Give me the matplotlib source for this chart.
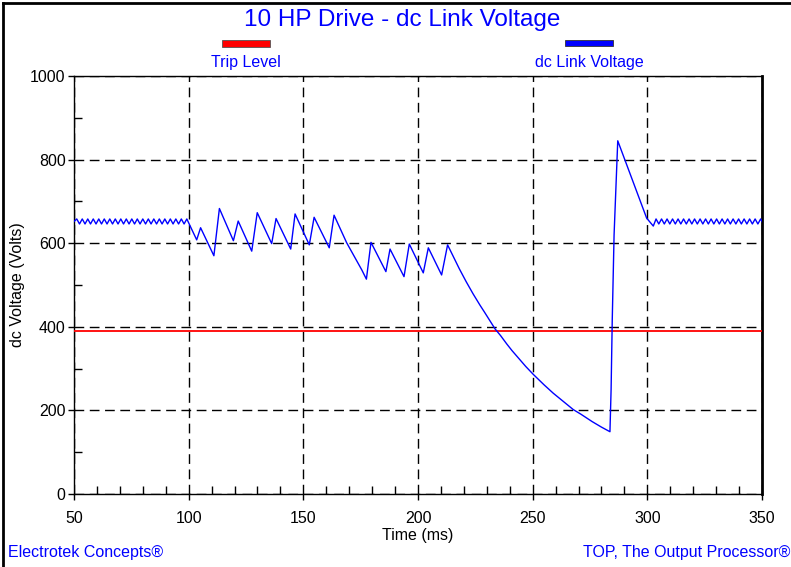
import numpy as np
import matplotlib
matplotlib.use("Agg")
import matplotlib.pyplot as plt
from matplotlib.lines import Line2D
from matplotlib.patches import Rectangle
from matplotlib.ticker import MultipleLocator

plt.rcParams['font.family'] = ['Liberation Sans', 'DejaVu Sans']

# steady state ripple before the sag (ms, volts)
pre_t = [50.0, 51.2, 52.4, 53.6, 54.8, 56.0, 57.2, 58.4, 59.6, 60.8, 62.0, 63.2, 64.4, 65.6,
         66.8, 68.0, 69.2, 70.4, 71.6, 72.8, 74.0, 75.2, 76.4, 77.6, 78.8, 80.0, 81.2, 82.4,
         83.6, 84.8, 86.0, 87.2, 88.4, 89.6, 90.8, 92.0, 93.2, 94.4, 95.6, 96.8, 98.0, 99.2]
pre_v = [652, 658, 646, 658, 646, 658, 646, 658, 646, 658, 646, 658, 646, 658,
         646, 658, 646, 658, 646, 658, 646, 658, 646, 658, 646, 658, 646, 658,
         646, 658, 646, 658, 646, 658, 646, 658, 646, 658, 646, 658, 646, 658]

# sag, collapse and recovery
event_t = [103.5, 105.2, 111.0, 113.4, 119.5, 121.6, 127.5, 129.9, 136.2, 138.1, 144.5, 146.4,
           152.6, 154.7, 161.3, 163.4, 168.9, 175.5, 177.5, 179.5, 186.0, 187.8, 193.9, 196.2,
           202.3, 204.5, 210.3, 212.9, 216.0, 218.0, 221.0, 224.0, 227.0, 229.0, 233.6, 236.0,
           238.7, 241.0, 244.0, 247.0, 250.3, 255.0, 259.0, 263.0, 267.7, 271.0, 276.0, 280.0,
           283.7, 284.2, 284.7, 285.5, 287.1, 299.7, 301.2, 302.6]
event_v = [608, 637, 570, 683, 606, 653, 581, 673, 599, 659, 586, 670,
           596, 662, 589, 667, 601, 536, 514, 602, 532, 586, 520, 598,
           529, 589, 524, 596, 561, 539, 508, 479, 452, 435, 395, 379,
           359, 343, 324, 305, 286, 261, 241, 223, 202, 191, 173, 160,
           149, 250, 416, 620, 845, 660, 650, 641]

# ripple after recovery
post_t = [303.8, 305.0, 306.2, 307.4, 308.6, 309.8, 311.0, 312.2, 313.4, 314.6, 315.8, 317.0,
          318.2, 319.4, 320.6, 321.8, 323.0, 324.2, 325.4, 326.6, 327.8, 329.0, 330.2, 331.4,
          332.6, 333.8, 335.0, 336.2, 337.4, 338.6, 339.8, 341.0, 342.2, 343.4, 344.6, 345.8,
          347.0, 348.2, 349.4, 350.6]
post_v = [658, 646, 658, 646, 658, 646, 658, 646, 658, 646, 658, 646,
          658, 646, 658, 646, 658, 646, 658, 646, 658, 646, 658, 646,
          658, 646, 658, 646, 658, 646, 658, 646, 658, 646, 658, 646,
          658, 646, 658, 646]

trip_level = 390

time_ms = np.array(pre_t + event_t + post_t)
dc_volts = np.array(pre_v + event_v + post_v)

blue = '#0000ff'
red = '#ff0000'

fig = plt.figure(figsize=(7.91, 5.67), dpi=100)
ax = fig.add_axes([74 / 791, 73 / 567, 688 / 791, 418 / 567])

ax.axhline(trip_level, color=red, lw=1.3, zorder=3)
ax.plot(time_ms, dc_volts, color=blue, lw=1.0, zorder=4)

ax.set_xlim(50, 350)
ax.set_ylim(0, 1000)
ax.xaxis.set_major_locator(MultipleLocator(50))
ax.xaxis.set_minor_locator(MultipleLocator(10))
ax.yaxis.set_major_locator(MultipleLocator(200))
ax.yaxis.set_minor_locator(MultipleLocator(100))
ax.tick_params(axis='both', which='major', direction='out', length=4, width=1,
               labelsize=11.5, colors='black', pad=2)
ax.tick_params(axis='both', which='minor', direction='in', length=6, width=1)
ax.tick_params(axis='x', which='major', pad=8)

ax.grid(True, which='major', color='black', lw=1, linestyle=(0, (7, 4)))
for side in ['left', 'bottom', 'top']:
    ax.spines[side].set_linewidth(1)
ax.spines['right'].set_linewidth(2)

ax.set_xlabel('Time (ms)', fontsize=11.5, labelpad=2)
ax.set_ylabel('dc Voltage (Volts)', fontsize=11.5, labelpad=4)

fig.text(402 / 791, 1 - 20 / 567, '10 HP Drive - dc Link Voltage', color=blue,
         fontsize=17.5, ha='center', va='center')

# legend swatches
fig.add_artist(Rectangle((222 / 791, 1 - 47 / 567), 48 / 791, 7 / 567,
                         transform=fig.transFigure, facecolor=red, edgecolor='#555555', lw=0.6))
fig.add_artist(Rectangle((565 / 791, 1 - 46 / 567), 48 / 791, 6 / 567,
                         transform=fig.transFigure, facecolor=blue, edgecolor='#333333', lw=0.6))
fig.text(246 / 791, 1 - 62 / 567, 'Trip Level', color=blue, fontsize=11.5, ha='center', va='center')
fig.text(589 / 791, 1 - 62 / 567, 'dc Link Voltage', color=blue, fontsize=11.5, ha='center', va='center')

fig.text(8 / 791, 1 - 553 / 567, 'Electrotek Concepts®', color=blue, fontsize=11.5, ha='left', va='center')
fig.text(790 / 791, 1 - 553 / 567, 'TOP, The Output Processor®', color=blue, fontsize=11.5,
         ha='right', va='center')

# outer frame (left and top edges)
fig.add_artist(Line2D([3 / 791, 3 / 791], [0, 1 - 3 / 567], transform=fig.transFigure, color='black', lw=2))
fig.add_artist(Line2D([3 / 791, 1], [1 - 3 / 567, 1 - 3 / 567], transform=fig.transFigure, color='black', lw=2))

fig.savefig('out.png', dpi=100)
